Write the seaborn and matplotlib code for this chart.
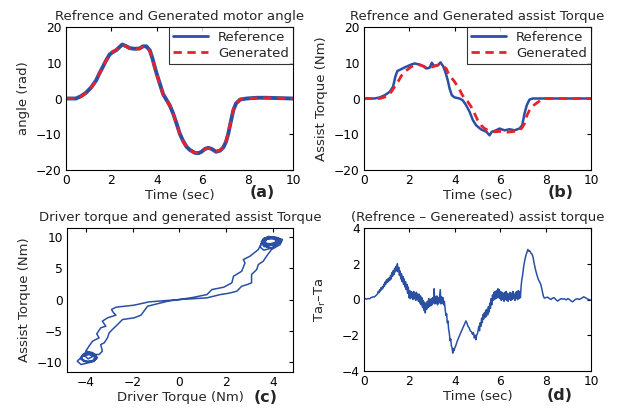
import seaborn as sns
import matplotlib.pyplot as plt

# (a) motor angle
t_angle = [0, 0.44, 0.66, 0.88, 1.11, 1.33, 1.47, 1.62, 1.77, 1.92, 2.06, 2.21, 2.36, 2.48,
           2.63, 2.8, 3.02, 3.24, 3.39, 3.54, 3.69, 3.8, 3.91, 4.03, 4.13, 4.28, 4.42, 4.57,
           4.72, 4.87, 5.01, 5.16, 5.31, 5.46, 5.68, 5.83, 5.97, 6.12, 6.27, 6.42, 6.61, 6.78,
           6.93, 7.05, 7.15, 7.26, 7.37, 7.49, 7.67, 7.96, 8.4, 8.85, 9.4, 10]
angle_ref = [0, 0, 0.65, 1.6, 3.1, 5.1, 7.0, 8.8, 10.7, 12.3, 13.0, 13.5, 14.4, 15.1,
             14.7, 14.1, 13.9, 14.0, 14.6, 14.6, 13.5, 11.4, 8.8, 6.2, 4.2, 1.2, -0.3, -1.9,
             -4.2, -7.0, -9.8, -11.9, -13.5, -14.4, -15.2, -15.3, -14.9, -14.1, -13.8, -14.1, -14.9, -14.6,
             -13.7, -12.1, -9.8, -6.5, -3.3, -1.4, -0.3, 0, 0.2, 0.2, 0.1, 0]
angle_gen = [0, 0, 0.55, 1.5, 3.0, 5.0, 6.9, 8.7, 10.6, 12.2, 13.1, 13.6, 14.3, 14.9,
             14.6, 14.0, 13.8, 13.9, 14.5, 14.5, 13.3, 11.2, 8.6, 6.0, 4.0, 1.0, -0.4, -2.0,
             -4.3, -7.1, -9.9, -12.0, -13.6, -14.5, -15.1, -15.2, -14.8, -14.2, -13.9, -14.2, -14.8, -14.5,
             -13.6, -11.9, -9.6, -6.3, -3.1, -1.3, -0.2, 0, 0.1, 0.2, 0.1, 0]

# (b) assist torque
t_ref_b = [0, 0.47, 0.69, 0.91, 1.14, 1.28, 1.38, 1.47, 1.64, 1.79, 1.94, 2.08, 2.23, 2.38,
           2.52, 2.64, 2.74, 2.89, 2.99, 3.08, 3.26, 3.37, 3.48, 3.58, 3.69, 3.77, 3.87, 3.99,
           4.21, 4.35, 4.5, 4.65, 4.8, 4.94, 5.17, 5.39, 5.53, 5.63, 5.82, 5.97, 6.19, 6.41,
           6.63, 6.85, 6.97, 7.07, 7.17, 7.29, 7.43, 10]
ta_ref = [0, 0, 0.3, 0.9, 1.9, 3.3, 6.1, 7.7, 8.2, 8.7, 9.1, 9.5, 9.8, 9.6,
          9.3, 8.9, 8.4, 8.6, 10.0, 9.1, 9.3, 10.1, 9.1, 7.5, 5.1, 2.8, 0.9, 0.3,
          0, -0.5, -1.9, -3.7, -6.1, -7.5, -8.7, -9.3, -10.3, -9.3, -8.9, -8.4, -8.9, -8.6,
          -8.9, -8.4, -7.5, -4.2, -1.9, -0.3, 0, 0]
t_gen_b = [0, 0.69, 0.91, 1.13, 1.35, 1.5, 1.64, 1.79, 1.94, 2.08, 2.23, 2.38, 2.52, 2.67,
           2.82, 3.03, 3.17, 3.32, 3.47, 3.62, 3.72, 3.84, 3.99, 4.21, 4.31, 4.43, 4.57, 4.72,
           4.87, 5.01, 5.16, 5.31, 5.53, 5.75, 6.04, 6.33, 6.63, 6.85, 6.97, 7.07, 7.18, 7.29,
           7.43, 7.58, 7.73, 7.87, 10]
ta_gen = [0, 0, 0.4, 1.2, 3.3, 4.7, 6.3, 7.5, 8.2, 8.9, 9.3, 9.5, 9.3, 8.9,
          8.4, 8.9, 9.2, 9.5, 9.1, 8.4, 7.0, 5.9, 4.7, 2.5, 1.2, 0, -0.9, -2.3,
          -4.2, -6.1, -7.5, -8.4, -9.1, -9.3, -9.2, -9.4, -9.2, -8.9, -8.1, -7.0, -4.7, -3.3,
          -2.1, -1.4, -0.7, 0, 0]

# (c) driver torque vs assist torque, in the order the loop is travelled
driver_tq = [0, 0.48, 1.18, 1.75, 2.1, 2.45, 2.66, 2.9, 3.08, 3.08, 3.3, 3.37, 3.58, 3.72, 3.93,
             4.3, 4.4, 4.1, 3.7, 3.5, 3.6, 3.95, 4.25, 4.2, 3.8, 3.55, 3.7, 4.1, 4.35, 4.0, 3.6,
             3.5, 3.8, 4.2, 4.3, 3.9, 3.6, 3.75, 4.15, 4.05, 3.7, 3.65, 4.0, 4.2, 3.85, 3.55, 3.7,
             3.9, 3.6, 3.45, 3.51,
             3.37, 3.01, 2.73, 2.8, 2.66, 2.31, 2.24, 1.89, 1.39, 1.18, 0.6, 0,
             -0.5, -1.36, -1.64, -1.93, -2.43, -2.64, -2.79, -3.0, -3.07, -3.21, -3.36, -3.29,
             -3.43, -3.71,
             -4.0, -4.2, -4.1, -3.8, -3.55, -3.6, -3.9, -4.15, -4.2, -3.9, -3.6, -3.55, -3.8, -4.1,
             -4.2, -4.0, -3.7, -3.6, -3.85, -4.15, -4.36, -4.2, -3.86, -3.65, -3.5, -3.7, -3.95,
             -4.1, -3.9, -3.7, -3.85, -4.0,
             -3.86, -3.71, -3.43, -3.53, -3.36, -3.14, -3.29, -3.07, -2.71, -2.81, -2.9, -2.71,
             -1.93, -1.29, 0]
assist_tq = [0, 0.1, 0.27, 0.8, 1.0, 1.33, 2.13, 2.4, 2.67, 4.0, 4.8, 5.6, 6.13, 6.93, 8.0,
             8.8, 9.6, 10.0, 9.9, 9.3, 8.5, 8.3, 9.1, 9.8, 10.1, 9.6, 8.9, 8.6, 9.3, 9.9, 9.8,
             9.0, 8.6, 9.0, 9.7, 10.05, 9.4, 8.8, 9.2, 9.8, 9.6, 9.0, 8.9, 9.5, 9.9, 9.2, 8.5,
             8.2, 7.9, 8.4, 9.07,
             8.0, 6.93, 6.4, 5.87, 4.53, 3.73, 2.67, 1.97, 1.6, 0.8, 0.35, 0,
             -0.27, -1.07, -2.5, -2.93, -3.2, -4.0, -4.53, -5.33, -6.13, -6.93, -7.2, -8.27,
             -8.8, -8.8,
             -8.6, -9.2, -9.9, -10.0, -9.5, -8.8, -8.4, -8.9, -9.6, -10.0, -9.7, -9.1, -8.6, -8.7,
             -9.4, -9.9, -9.8, -9.2, -8.8, -9.1, -9.87, -10.4, -10.1, -9.9, -9.3, -8.5, -8.3,
             -8.8, -9.5, -9.1, -8.6, -8.27,
             -7.47, -6.67, -6.13, -5.49, -4.53, -4.27, -3.47, -2.93, -2.5, -2.13, -1.6, -1.23,
             -0.9, -0.37, 0]

# (d) reference - generated assist torque
t_diff = [0, 0.05, 0.1, 0.15, 0.2, 0.25, 0.3, 0.35, 0.4, 0.45, 0.5, 0.55,
          0.60, 0.63, 0.66, 0.69, 0.72, 0.75, 0.78, 0.81, 0.84, 0.87, 0.90, 0.93, 0.96, 0.99, 1.02,
          1.05, 1.08, 1.11, 1.14, 1.17, 1.20, 1.23, 1.26, 1.29, 1.32, 1.35, 1.38, 1.41, 1.44, 1.47,
          1.50, 1.53, 1.56, 1.59, 1.62, 1.65, 1.68, 1.71, 1.74, 1.77, 1.80, 1.83, 1.86, 1.89, 1.92,
          1.95, 1.98, 2.01, 2.04, 2.07, 2.10, 2.13, 2.16, 2.19, 2.22, 2.25, 2.28, 2.31, 2.34, 2.37,
          2.40, 2.43, 2.46, 2.49, 2.52, 2.55, 2.58, 2.61, 2.64, 2.67, 2.70, 2.73, 2.76, 2.79, 2.82,
          2.85, 2.88, 2.91, 2.94, 2.97, 3.00, 3.03, 3.06, 3.09, 3.12, 3.15, 3.18, 3.21, 3.24, 3.27,
          3.30, 3.33, 3.36, 3.39, 3.42, 3.45, 3.48, 3.51, 3.54,
          3.58, 3.61, 3.64, 3.67, 3.70, 3.73, 3.76, 3.79, 3.82, 3.85, 3.88, 3.91, 3.94, 3.97, 4.0,
          4.04, 4.1, 4.18, 4.26, 4.35, 4.42, 4.49, 4.53, 4.58, 4.63, 4.68, 4.73, 4.78, 4.82, 4.86,
          4.9, 4.93, 4.96, 5.0, 5.03,
          5.06, 5.09, 5.12, 5.15, 5.18, 5.21, 5.24, 5.27, 5.30, 5.33, 5.36, 5.39, 5.42, 5.45, 5.48,
          5.51, 5.54, 5.57, 5.60, 5.63, 5.66, 5.69, 5.72, 5.75, 5.78, 5.81, 5.84, 5.87, 5.90, 5.93,
          5.96, 5.99, 6.02, 6.05, 6.08, 6.11, 6.14, 6.17, 6.20, 6.23, 6.26, 6.29, 6.32, 6.35, 6.38,
          6.41, 6.44, 6.47, 6.50, 6.53, 6.56, 6.59, 6.62, 6.65, 6.68, 6.71, 6.74, 6.77, 6.80, 6.83,
          6.86, 6.89, 6.92,
          6.95, 6.98, 7.01, 7.04, 7.07, 7.1, 7.14, 7.18, 7.22, 7.26, 7.3, 7.35, 7.4, 7.45, 7.5,
          7.55, 7.6, 7.67, 7.73, 7.79, 7.85, 7.9, 7.94, 8.0, 8.09, 8.17, 8.24, 8.31, 8.38, 8.45,
          8.53, 8.6, 8.68, 8.75, 8.82, 8.9, 8.98, 9.05, 9.12, 9.19, 9.26, 9.33, 9.41, 9.48, 9.55,
          9.62, 9.68, 9.75, 9.82, 9.9, 10.0]
ta_diff = [0.02, 0.05, 0.02, 0.04, 0.05, 0.04, 0.1, 0.12, 0.15, 0.14, 0.19, 0.25,
           0.32, 0.45, 0.38, 0.55, 0.47, 0.66, 0.55, 0.72, 0.64, 0.85, 0.74, 0.98, 0.86, 1.1, 0.95,
           1.15, 1.0, 1.22, 1.08, 1.35, 1.15, 1.5, 1.3, 1.62, 1.4, 1.75, 1.55, 1.85, 1.6, 2.0,
           1.55, 1.8, 1.35, 1.6, 1.15, 1.45, 1.0, 1.3, 0.85, 1.15, 0.7, 1.0, 0.55, 0.85, 0.35,
           0.7, 0.1, 0.5, 0.05, 0.45, 0.1, 0.4, 0.0, 0.45, 0.05, 0.35, -0.05, 0.4, 0.0, 0.3,
           -0.1, 0.3, -0.2, 0.2, -0.3, 0.1, -0.45, -0.05, -0.6, -0.15, -0.75, -0.25, -0.55, -0.1, -0.45,
           0.05, -0.4, 0.0, -0.35, 0.05, -0.3, 0.1, -0.2, 0.6, -0.25, 0.15, -0.2, 0.2, -0.3, 0.1,
           -0.2, 0.2, 0.55, -0.25, 0.15, -0.2, 0.1, -0.3, -0.1,
           -0.6, -0.9, -0.8, -1.3, -1.2, -1.7, -1.9, -2.3, -2.2, -2.6, -2.7, -3.0, -2.75, -2.85, -2.7,
           -2.6, -2.35, -2.1, -1.86, -1.6, -1.4, -1.2, -1.3, -1.5, -1.58, -1.75, -1.8, -1.95, -1.85, -2.15,
           -2.0, -2.25, -2.0, -1.9, -1.7,
           -1.5, -1.75, -1.3, -1.5, -1.05, -1.3, -0.85, -1.1, -0.75, -1.0, -0.6, -0.95, -0.55, -0.85, -0.4,
           -0.7, -0.2, -0.5, 0.05, -0.3, 0.25, -0.05, 0.4, 0.0, 0.45, 0.05, 0.5, 0.1, 0.6, 0.1,
           0.55, 0.05, 0.45, -0.05, 0.4, 0.0, 0.35, -0.1, 0.4, 0.0, 0.45, -0.05, 0.35, -0.1, 0.3,
           0.0, 0.4, -0.05, 0.35, 0.0, 0.45, 0.05, 0.3, -0.05, 0.4, 0.05, 0.45, 0.0, 0.5, 0.05,
           0.45, 0.1, 0.7,
           1.1, 1.3, 1.6, 1.9, 2.1, 2.3, 2.5, 2.65, 2.8, 2.7, 2.72, 2.6, 2.55, 2.35, 2.0,
           1.7, 1.45, 1.15, 1.0, 0.84, 0.5, 0.2, 0.08, 0.1, 0.13, 0.05, 0, 0.08, 0.1, 0.0,
           -0.09, -0.02, 0.05, 0.02, 0.04, -0.02, 0.05, 0.0, -0.08, -0.13, -0.05, 0.02, 0.04, 0.0, 0.05,
           0.1, 0.15, 0.1, 0.05, 0.0, -0.04]

blue = '#2B4FA3'
red = '#E8222B'

sns.set_style('white')
plt.rcParams['font.family'] = ['DejaVu Sans']
plt.rcParams['xtick.direction'] = 'in'
plt.rcParams['ytick.direction'] = 'in'
plt.rcParams['xtick.top'] = True
plt.rcParams['ytick.right'] = True
plt.rcParams['xtick.major.size'] = 3
plt.rcParams['ytick.major.size'] = 3
plt.rcParams['axes.edgecolor'] = 'black'
plt.rcParams['axes.linewidth'] = 0.8

fig = plt.figure(figsize=(6.18, 4.12), dpi=100)
W, H = 618, 412
def add_ax(left, top, right, bottom):
    return fig.add_axes([left / W, 1 - bottom / H, (right - left) / W, (bottom - top) / H])

ax_a = add_ax(66, 27, 293, 170)
ax_b = add_ax(364, 27, 591, 170)
ax_c = add_ax(67, 228, 293, 372)
ax_d = add_ax(364, 228, 591, 371)

fs = 9.5
tfs = 8.8

# (a)
sns.lineplot(x=t_angle, y=angle_ref, ax=ax_a, color=blue, lw=2.8, label='Reference')
sns.lineplot(x=t_angle, y=angle_gen, ax=ax_a, color=red, lw=2, ls=(0, (3, 2)), label='Generated')
ax_a.set_xlim(0, 10)
ax_a.set_ylim(-20, 20)
ax_a.set_yticks([-20, -10, 0, 10, 20])
ax_a.set_title('Refrence and Generated motor angle', fontsize=fs, pad=5)
ax_a.set_ylabel('angle (rad)', fontsize=fs)
ax_a.set_xlabel('Time (sec)', fontsize=fs, labelpad=1)

# (b)
sns.lineplot(x=t_ref_b, y=ta_ref, ax=ax_b, color=blue, lw=1.8, label='Reference')
sns.lineplot(x=t_gen_b, y=ta_gen, ax=ax_b, color=red, lw=2, ls=(0, (3, 2)), label='Generated')
ax_b.set_xlim(0, 10)
ax_b.set_ylim(-20, 20)
ax_b.set_yticks([-20, -10, 0, 10, 20])
ax_b.set_title('Refrence and Generated assist Torque', fontsize=fs, pad=5)
ax_b.set_ylabel('Assist Torque (Nm)', fontsize=fs)
ax_b.set_xlabel('Time (sec)', fontsize=fs, labelpad=1)

for ax in (ax_a, ax_b):
    leg = ax.legend(loc='upper right', fontsize=fs, frameon=True, fancybox=False,
                    borderaxespad=0, handlelength=2.6, borderpad=0.3, labelspacing=0.2)
    leg.get_frame().set_edgecolor('black')
    leg.get_frame().set_linewidth(0.8)
    for h in leg.get_lines():
        h.set_linewidth(2)

# (c)
sns.lineplot(x=driver_tq, y=assist_tq, ax=ax_c, color=blue, lw=1.1, sort=False, estimator=None)
ax_c.set_xlim(-4.8, 4.85)
ax_c.set_ylim(-11.6, 11.45)
ax_c.set_xticks([-4, -2, 0, 2, 4])
ax_c.set_yticks([-10, -5, 0, 5, 10])
ax_c.set_title('Driver torque and generated assist Torque', fontsize=fs, pad=5)
ax_c.set_ylabel('Assist Torque (Nm)', fontsize=fs)
ax_c.set_xlabel('Driver Torque (Nm)', fontsize=fs, labelpad=1)

# (d)
sns.lineplot(x=t_diff, y=ta_diff, ax=ax_d, color=blue, lw=1.1, sort=False, estimator=None)
ax_d.set_xlim(0, 10)
ax_d.set_ylim(-4, 4)
ax_d.set_yticks([-4, -2, 0, 2, 4])
ax_d.set_title('(Refrence \u2013 Genereated) assist torque', fontsize=fs, pad=5)
ax_d.set_ylabel('Ta$_\\mathregular{r}$\u2013Ta', fontsize=fs)
ax_d.set_xlabel('Time (sec)', fontsize=fs, labelpad=1)

for ax, tag, xpos, ypos in ((ax_a, '(a)', 0.863, -0.155), (ax_b, '(b)', 0.865, -0.155),
                            (ax_c, '(c)', 0.88, -0.18), (ax_d, '(d)', 0.863, -0.17)):
    ax.tick_params(labelsize=tfs, pad=3, colors='black')
    ax.yaxis.set_label_coords(-0.16, 0.5)
    ax.text(xpos, ypos, tag, transform=ax.transAxes, ha='center', va='center',
            fontsize=11.5, fontweight='bold')
    for s in ax.spines.values():
        s.set_visible(True)

fig.savefig('out.png', dpi=100)
